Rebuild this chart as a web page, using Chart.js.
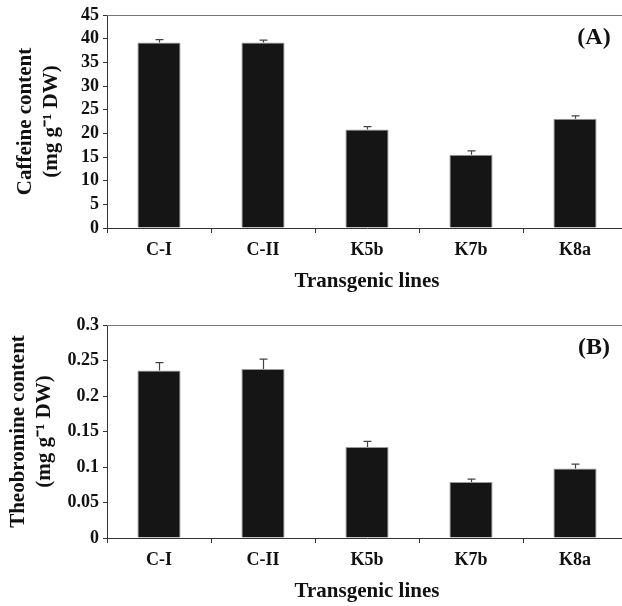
<!DOCTYPE html>
<html>
<head>
<meta charset="utf-8">
<script src="https://cdn.jsdelivr.net/npm/chart.js@4.4.0/dist/chart.umd.min.js"></script>
<style>
body { margin: 0; width: 622px; height: 606px; overflow: hidden; background: #fff; }
.panel { position: absolute; left: 0; }
</style>
</head>
<body>
<div class="panel" style="top:0px"><canvas id="chartA" width="640" height="300"></canvas></div>
<div class="panel" style="top:310px"><canvas id="chartB" width="640" height="300"></canvas></div>
<script>
// transgenic lines and measured values (mean, SE)
const lines = ['C-I', 'C-II', 'K5b', 'K7b', 'K8a'];
const caffeine = [39.2, 39.2, 20.8, 15.5, 23.1];
const caffeineErr = [0.6, 0.5, 0.6, 0.8, 0.6];
const theobromine = [0.236, 0.238, 0.128, 0.079, 0.098];
const theobromineErr = [0.011, 0.014, 0.008, 0.004, 0.006];

const serif = "'Liberation Serif', 'Times New Roman', serif";
const axisColor = '#333';

// error bars (upper half only) + top frame line + panel letter
const extras = {
    id: 'extras',
    afterDatasetsDraw(chart, args, opts) {
        const ctx = chart.ctx;
        const y = chart.scales.y;
        const area = chart.chartArea;
        const meta = chart.getDatasetMeta(0);
        const errs = chart.data.datasets[0].errors;
        ctx.save();
        ctx.strokeStyle = '#444';
        ctx.lineWidth = 1.2;
        meta.data.forEach(function (bar, i) {
            const v = chart.data.datasets[0].data[i];
            const top = y.getPixelForValue(v + errs[i]);
            const x = Math.round(bar.x) + 0.5;
            ctx.beginPath();
            ctx.moveTo(x, bar.y);
            ctx.lineTo(x, top);
            ctx.moveTo(x - 4, top);
            ctx.lineTo(x + 4, top);
            ctx.stroke();
        });
        ctx.strokeStyle = '#777';
        ctx.lineWidth = 1;
        ctx.beginPath();
        ctx.moveTo(area.left, Math.round(area.top) + 0.5);
        ctx.lineTo(area.right, Math.round(area.top) + 0.5);
        ctx.stroke();
        ctx.fillStyle = '#111';
        ctx.font = 'bold 24px ' + serif;
        ctx.textAlign = 'center';
        ctx.textBaseline = 'middle';
        ctx.fillText(opts.label, 594, area.top + 23);
        ctx.restore();
    }
};

function makeChart(id, values, errors, yMax, yStep, yTitle, panel, titlePad) {
    return new Chart(document.getElementById(id), {
        type: 'bar',
        data: {
            labels: lines,
            datasets: [{
                data: values,
                errors: errors,
                backgroundColor: '#151515',
                borderColor: '#9a9a9a',
                borderWidth: 1,
                categoryPercentage: 1,
                barPercentage: 0.415
            }]
        },
        options: {
            responsive: false,
            animation: false,
            layout: { padding: { top: 15, right: 13, left: 0, bottom: 0 } },
            plugins: {
                legend: { display: false },
                tooltip: { enabled: false },
                extras: { label: panel }
            },
            scales: {
                x: {
                    grid: { drawOnChartArea: false, tickLength: 5, color: axisColor, offset: true },
                    border: { color: axisColor },
                    ticks: { color: '#111', padding: 7, font: { family: serif, size: 18, weight: 'bold' } },
                    title: {
                        display: true,
                        text: 'Transgenic lines',
                        color: '#111',
                        padding: { top: 10, bottom: 6 },
                        font: { family: serif, size: 21, weight: 'bold' }
                    },
                    afterFit(scale) { scale.height = 72; }
                },
                y: {
                    min: 0,
                    max: yMax,
                    grid: { drawOnChartArea: false, tickLength: 4, color: axisColor },
                    border: { color: axisColor },
                    ticks: {
                        stepSize: yStep,
                        autoSkip: false,
                        color: '#111',
                        padding: 4,
                        font: { family: serif, size: 18, weight: 'bold' },
                        callback: function (v) { return String(Number(v.toFixed(2))); }
                    },
                    title: {
                        display: true,
                        text: yTitle,
                        color: '#111',
                        padding: { top: titlePad, bottom: 0 },
                        font: { family: serif, size: 21, weight: 'bold', lineHeight: 1.22 }
                    },
                    afterFit(scale) { scale.width = 107; }
                }
            }
        },
        plugins: [extras]
    });
}

makeChart('chartA', caffeine, caffeineErr, 45, 5,
    ['Caffeine content', '(mg g\u207B\u00B9 DW)'], '(A)', 13);
makeChart('chartB', theobromine, theobromineErr, 0.3, 0.05,
    ['Theobromine content', '(mg g\u207B\u00B9 DW)'], '(B)', 6);
</script>
</body>
</html>
